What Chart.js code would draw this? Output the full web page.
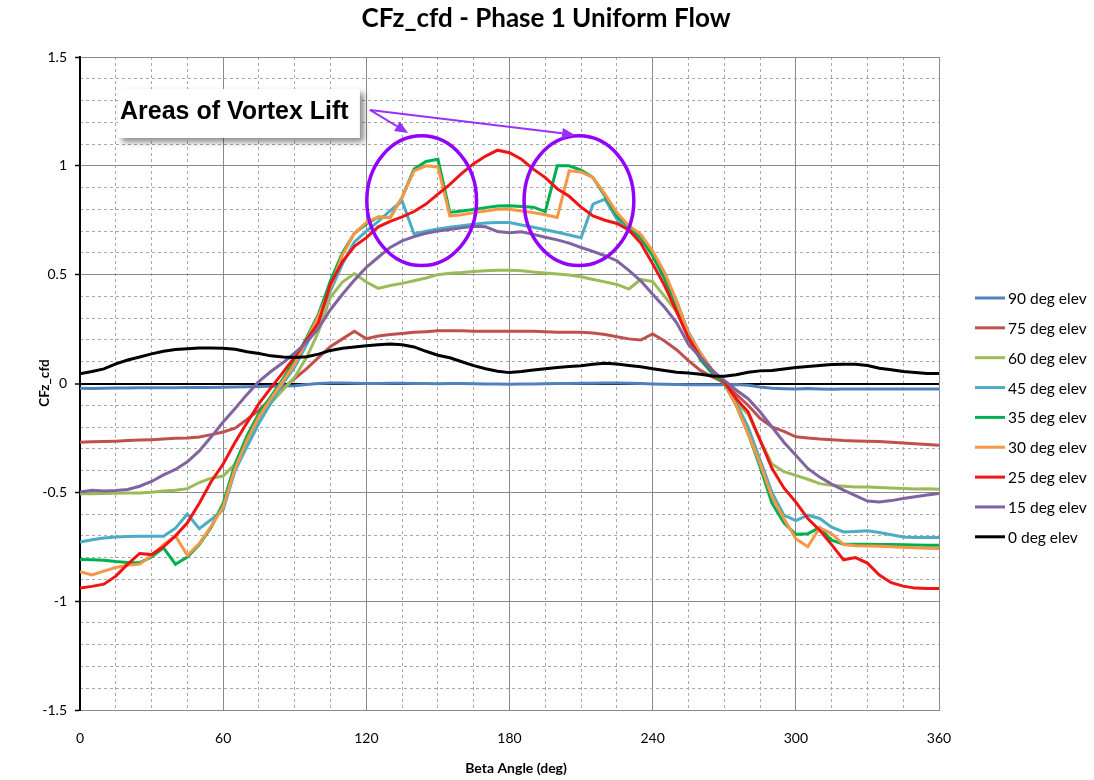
<!DOCTYPE html>
<html><head><meta charset="utf-8">
<script src="https://cdn.jsdelivr.net/npm/chart.js@4.4.0/dist/chart.umd.min.js"></script>
<style>html,body{margin:0;padding:0;background:#fff;}#wrap{width:1094px;height:780px;}</style>
</head><body><div id="wrap"><canvas id="c" width="1094" height="780"></canvas></div>
<script>
const beta = [0,5,10,15,20,25,30,35,40,45,50,55,
  60,65,70,75,80,85,90,95,100,105,110,115,
  120,125,130,135,140,145,150,155,160,165,170,175,
  180,185,190,195,200,205,210,215,220,225,230,235,
  240,245,250,255,260,265,270,275,280,285,290,295,
  300,305,310,315,320,325,330,335,340,345,350,355,360];

const elev90 = [-0.022,-0.023,-0.022,-0.021,-0.021,-0.020,-0.020,-0.019,-0.019,-0.018,-0.018,-0.018,
  -0.017,-0.016,-0.015,-0.014,-0.013,-0.012,-0.010,-0.005,0.000,0.002,0.002,0.001,
  0.000,0.000,0.001,0.001,0.000,0.000,-0.001,0.000,0.000,-0.001,-0.002,-0.002,
  -0.003,-0.002,-0.002,-0.001,0.000,0.000,0.001,0.001,0.002,0.002,0.001,0.000,
  -0.002,-0.004,-0.005,-0.006,-0.006,-0.006,-0.006,-0.005,-0.008,-0.016,-0.022,-0.024,
  -0.025,-0.023,-0.025,-0.026,-0.025,-0.025,-0.025,-0.025,-0.025,-0.025,-0.025,-0.025,-0.025];

const elev75 = [-0.270,-0.268,-0.267,-0.265,-0.262,-0.260,-0.258,-0.255,-0.252,-0.250,-0.246,-0.235,
  -0.223,-0.205,-0.165,-0.122,-0.070,-0.022,0.023,0.068,0.120,0.170,0.205,0.240,
  0.206,0.218,0.225,0.230,0.235,0.238,0.242,0.242,0.242,0.240,0.240,0.240,
  0.240,0.240,0.240,0.238,0.236,0.235,0.235,0.232,0.225,0.215,0.205,0.200,
  0.228,0.195,0.155,0.105,0.060,0.030,0.005,-0.050,-0.100,-0.160,-0.200,-0.220,
  -0.245,-0.250,-0.255,-0.258,-0.262,-0.264,-0.265,-0.267,-0.270,-0.273,-0.277,-0.280,-0.284];

const elev60 = [-0.506,-0.507,-0.505,-0.504,-0.503,-0.503,-0.500,-0.494,-0.490,-0.483,-0.455,-0.435,
  -0.425,-0.370,-0.270,-0.168,-0.090,-0.030,0.030,0.120,0.240,0.397,0.466,0.505,
  0.466,0.437,0.450,0.460,0.472,0.485,0.500,0.507,0.510,0.515,0.518,0.520,
  0.520,0.518,0.512,0.508,0.503,0.498,0.490,0.478,0.467,0.455,0.434,0.478,
  0.468,0.400,0.330,0.225,0.140,0.060,0.000,-0.090,-0.140,-0.260,-0.370,-0.405,
  -0.422,-0.440,-0.460,-0.468,-0.472,-0.475,-0.476,-0.478,-0.480,-0.482,-0.485,-0.484,-0.486];

const elev45 = [-0.728,-0.718,-0.710,-0.705,-0.703,-0.702,-0.702,-0.702,-0.665,-0.600,-0.667,-0.625,
  -0.580,-0.400,-0.290,-0.183,-0.090,0.000,0.076,0.180,0.300,0.427,0.550,0.650,
  0.700,0.745,0.794,0.838,0.687,0.700,0.710,0.718,0.725,0.732,0.737,0.740,
  0.740,0.728,0.718,0.706,0.695,0.682,0.670,0.824,0.847,0.755,0.700,0.665,
  0.594,0.500,0.380,0.235,0.140,0.060,0.005,-0.090,-0.200,-0.350,-0.500,-0.605,
  -0.630,-0.605,-0.620,-0.660,-0.682,-0.680,-0.677,-0.685,-0.695,-0.705,-0.707,-0.708,-0.708];

const elev35 = [-0.809,-0.810,-0.812,-0.818,-0.822,-0.823,-0.797,-0.755,-0.830,-0.797,-0.740,-0.660,
  -0.550,-0.370,-0.240,-0.137,-0.060,0.020,0.107,0.210,0.320,0.473,0.600,0.690,
  0.733,0.765,0.763,0.855,0.985,1.020,1.030,0.786,0.793,0.800,0.808,0.815,
  0.817,0.813,0.810,0.790,1.000,1.000,0.980,0.946,0.862,0.770,0.720,0.670,
  0.586,0.480,0.340,0.210,0.110,0.045,0.000,-0.100,-0.230,-0.383,-0.550,-0.640,
  -0.693,-0.690,-0.662,-0.720,-0.739,-0.739,-0.739,-0.740,-0.740,-0.741,-0.742,-0.743,-0.743];

const elev30 = [-0.865,-0.880,-0.862,-0.845,-0.835,-0.830,-0.790,-0.740,-0.700,-0.789,-0.735,-0.655,
  -0.567,-0.390,-0.260,-0.153,-0.070,0.010,0.090,0.200,0.310,0.443,0.590,0.690,
  0.740,0.765,0.763,0.855,0.977,1.000,0.995,0.770,0.775,0.785,0.792,0.800,
  0.800,0.793,0.785,0.775,0.763,0.977,0.972,0.946,0.870,0.785,0.725,0.685,
  0.609,0.510,0.380,0.227,0.140,0.060,0.006,-0.100,-0.230,-0.368,-0.520,-0.620,
  -0.713,-0.750,-0.662,-0.690,-0.740,-0.745,-0.746,-0.748,-0.750,-0.752,-0.755,-0.757,-0.758];

const elev25 = [-0.939,-0.932,-0.922,-0.885,-0.830,-0.781,-0.786,-0.750,-0.700,-0.640,-0.550,-0.450,
  -0.370,-0.270,-0.180,-0.092,-0.020,0.050,0.122,0.200,0.280,0.458,0.560,0.630,
  0.670,0.720,0.745,0.765,0.790,0.824,0.870,0.915,0.965,1.010,1.045,1.072,
  1.060,1.030,0.985,0.946,0.895,0.860,0.810,0.770,0.750,0.735,0.705,0.645,
  0.550,0.450,0.330,0.210,0.120,0.060,0.006,-0.070,-0.130,-0.260,-0.390,-0.480,
  -0.545,-0.620,-0.674,-0.740,-0.810,-0.800,-0.825,-0.880,-0.915,-0.931,-0.940,-0.942,-0.942];

const elev15 = [-0.498,-0.490,-0.494,-0.492,-0.487,-0.472,-0.450,-0.420,-0.395,-0.360,-0.310,-0.245,
  -0.177,-0.115,-0.050,0.010,0.055,0.095,0.140,0.190,0.255,0.340,0.410,0.475,
  0.534,0.580,0.625,0.655,0.675,0.690,0.700,0.708,0.715,0.722,0.720,0.698,
  0.693,0.697,0.685,0.672,0.660,0.645,0.625,0.607,0.587,0.564,0.520,0.472,
  0.410,0.350,0.280,0.180,0.120,0.060,0.014,-0.030,-0.070,-0.130,-0.200,-0.270,
  -0.330,-0.390,-0.430,-0.462,-0.490,-0.515,-0.540,-0.544,-0.538,-0.528,-0.520,-0.512,-0.505];

const elev0 = [0.045,0.055,0.067,0.090,0.108,0.122,0.136,0.148,0.156,0.160,0.163,0.163,
  0.162,0.157,0.146,0.138,0.127,0.122,0.120,0.123,0.135,0.152,0.162,0.168,
  0.173,0.178,0.182,0.178,0.168,0.148,0.130,0.118,0.100,0.082,0.068,0.056,
  0.050,0.055,0.062,0.068,0.073,0.078,0.082,0.088,0.093,0.090,0.083,0.077,
  0.068,0.060,0.052,0.048,0.042,0.035,0.033,0.040,0.052,0.058,0.060,0.067,
  0.073,0.078,0.083,0.087,0.088,0.088,0.083,0.070,0.063,0.055,0.050,0.046,0.046];

const seriesLabels = ['90 deg elev','75 deg elev','60 deg elev','45 deg elev','35 deg elev','30 deg elev','25 deg elev','15 deg elev','0 deg elev'];
const seriesValues = [elev90, elev75, elev60, elev45, elev35, elev30, elev25, elev15, elev0];
const seriesColors = ['#4f81bd','#c0504d','#9bbb59','#4bacc6','#00b050','#f79646','#f01414','#8064a2','#000000'];
const yTicks = [-1.5,-1,-0.5,0,0.5,1,1.5];
const xTicks = [0,60,120,180,240,300,360];

const titleText = 'CFz_cfd - Phase 1 Uniform Flow';
const xTitle = 'Beta Angle (deg)';
const yTitle = 'CFz_cfd';
const noteText = 'Areas of Vortex Lift';

const FONT = 'Lato, "Open Sans", sans-serif';
const isMajor = (v, step) => Math.abs(v/step - Math.round(v/step)) < 1e-6;

const datasets = seriesLabels.map((lab, i) => ({
  label: lab,
  data: beta.map((b, j) => ({x: b, y: seriesValues[i][j]})),
  borderColor: seriesColors[i],
  backgroundColor: seriesColors[i],
  borderWidth: 3,
  pointRadius: 0,
  tension: 0,
  fill: false,
  order: seriesLabels.length - i
}));

const deco = {
  id: 'deco',
  beforeDraw(chart) {
    const c = chart.ctx;
    c.save(); c.fillStyle = '#fff'; c.fillRect(0, 0, chart.width, chart.height); c.restore();
  },
  afterDatasetsDraw(chart) {
    const c = chart.ctx, x = chart.scales.x, y = chart.scales.y;
    const purple = '#9400ff';
    c.save();
    c.strokeStyle = purple; c.lineWidth = 3.5;
    [[143.2, 0.84], [209.1, 0.84]].forEach(([cx, cy]) => {
      const px = x.getPixelForValue(cx), py = y.getPixelForValue(cy);
      const rx = x.getPixelForValue(cx + 23) - px;
      const ry = py - y.getPixelForValue(cy + 0.298);
      c.beginPath(); c.ellipse(px, py, rx, ry, 0, 0, Math.PI * 2); c.stroke();
    });
    const sx = x.getPixelForValue(121.5), sy = y.getPixelForValue(1.257);
    c.strokeStyle = '#9a30ff'; c.fillStyle = '#9a30ff'; c.lineWidth = 2;
    [[137.5, 1.151], [207.5, 1.142]].forEach(([tx, ty]) => {
      const ex = x.getPixelForValue(tx), ey = y.getPixelForValue(ty);
      const ang = Math.atan2(ey - sy, ex - sx);
      const hl = 13, hw = 5.5;
      const bx = ex - hl * Math.cos(ang), by = ey - hl * Math.sin(ang);
      c.beginPath(); c.moveTo(sx, sy); c.lineTo(bx, by); c.stroke();
      c.beginPath();
      c.moveTo(ex, ey);
      c.lineTo(bx + hw * Math.sin(ang), by - hw * Math.cos(ang));
      c.lineTo(bx - hw * Math.sin(ang), by + hw * Math.cos(ang));
      c.closePath(); c.fill();
    });
    const bx0 = x.getPixelForValue(15.9), bx1 = x.getPixelForValue(117.3);
    const by0 = y.getPixelForValue(1.353), by1 = y.getPixelForValue(1.128);
    c.shadowColor = 'rgba(0,0,0,0.45)'; c.shadowBlur = 6; c.shadowOffsetX = 4; c.shadowOffsetY = 4;
    c.fillStyle = '#fff';
    c.fillRect(bx0, by0, bx1 - bx0, by1 - by0);
    c.shadowColor = 'transparent'; c.shadowBlur = 0; c.shadowOffsetX = 0; c.shadowOffsetY = 0;
    c.fillStyle = '#000';
    c.font = 'bold 25px "Liberation Sans", Arial, sans-serif';
    c.textAlign = 'left'; c.textBaseline = 'alphabetic';
    c.fillText(noteText, bx0 + 2, by0 + 30);
    c.restore();
  },
  afterDraw(chart) {
    const c = chart.ctx;
    c.save();
    c.fillStyle = '#000';
    c.textAlign = 'center'; c.textBaseline = 'middle';
    c.font = 'bold 26px ' + FONT;
    c.fillText(titleText, 546, 19);
    c.font = 'bold 14px ' + FONT;
    c.fillText(xTitle, 516, 768);
    c.save();
    c.translate(45, 383); c.rotate(-Math.PI / 2);
    c.font = 'bold 13.5px ' + FONT;
    c.fillText(yTitle, 0, 0);
    c.restore();
    c.textAlign = 'left';
    c.font = '15.5px ' + FONT;
    seriesLabels.forEach((lab, i) => {
      const ly = 298 + i * 29.85;
      c.strokeStyle = seriesColors[i]; c.lineWidth = 3;
      c.beginPath(); c.moveTo(975, ly); c.lineTo(1005, ly); c.stroke();
      c.fillStyle = '#000';
      c.fillText(lab, 1008, ly + 1);
    });
    c.restore();
  }
};

new Chart(document.getElementById('c'), {
  type: 'line',
  data: { datasets },
  options: {
    responsive: false,
    animation: false,
    devicePixelRatio: 1,
    layout: { padding: { left: 0, top: 57, right: 155, bottom: 0 } },
    plugins: { legend: { display: false }, title: { display: false }, tooltip: { enabled: false } },
    scales: {
      x: {
        type: 'linear', min: 0, max: 360, position: 'bottom',
        afterBuildTicks: s => { s.ticks = xTicks.map(v => ({value: v})); },
        afterFit: s => { s.height = 70; },
        ticks: { padding: 20, font: { family: FONT, size: 14 }, color: '#000', maxRotation: 0, callback: v => String(v) },
        grid: { color: '#8a8a8a', lineWidth: 1, drawTicks: false },
        border: { display: true, color: '#8a8a8a', width: 1 }
      },
      x2: {
        type: 'linear', min: 0, max: 360, position: 'bottom',
        ticks: { display: false, stepSize: 15 },
        afterFit: s => { s.height = 0; },
        grid: { drawTicks: false, color: ctx => isMajor(ctx.tick.value, 60) ? 'rgba(0,0,0,0)' : '#a8a8a8', lineWidth: 1 },
        border: { display: false, dash: [3, 3] }
      },
      y: {
        type: 'linear', min: -1.5, max: 1.5, position: 'left',
        afterBuildTicks: s => { s.ticks = yTicks.map(v => ({value: v})); },
        afterFit: s => { s.width = 80; },
        ticks: { padding: 8, font: { family: FONT, size: 14 }, color: '#000', callback: v => String(v) },
        grid: {
          color: ctx => (ctx.tick && ctx.tick.value === 0) ? '#000' : '#8a8a8a',
          lineWidth: ctx => (ctx.tick && ctx.tick.value === 0) ? 2 : 1,
          drawTicks: true, tickLength: 5, tickColor: '#000', tickWidth: 1.5
        },
        border: { display: true, color: '#000', width: 2 }
      },
      y2: {
        type: 'linear', min: -1.5, max: 1.5, position: 'left',
        ticks: { display: false, stepSize: 0.1 },
        afterFit: s => { s.width = 0; },
        grid: { drawTicks: false, color: ctx => isMajor(ctx.tick.value, 0.5) ? 'rgba(0,0,0,0)' : '#a8a8a8', lineWidth: 1 },
        border: { display: false, dash: [3, 3] }
      }
    }
  },
  plugins: [deco]
});
</script>
</body></html>
